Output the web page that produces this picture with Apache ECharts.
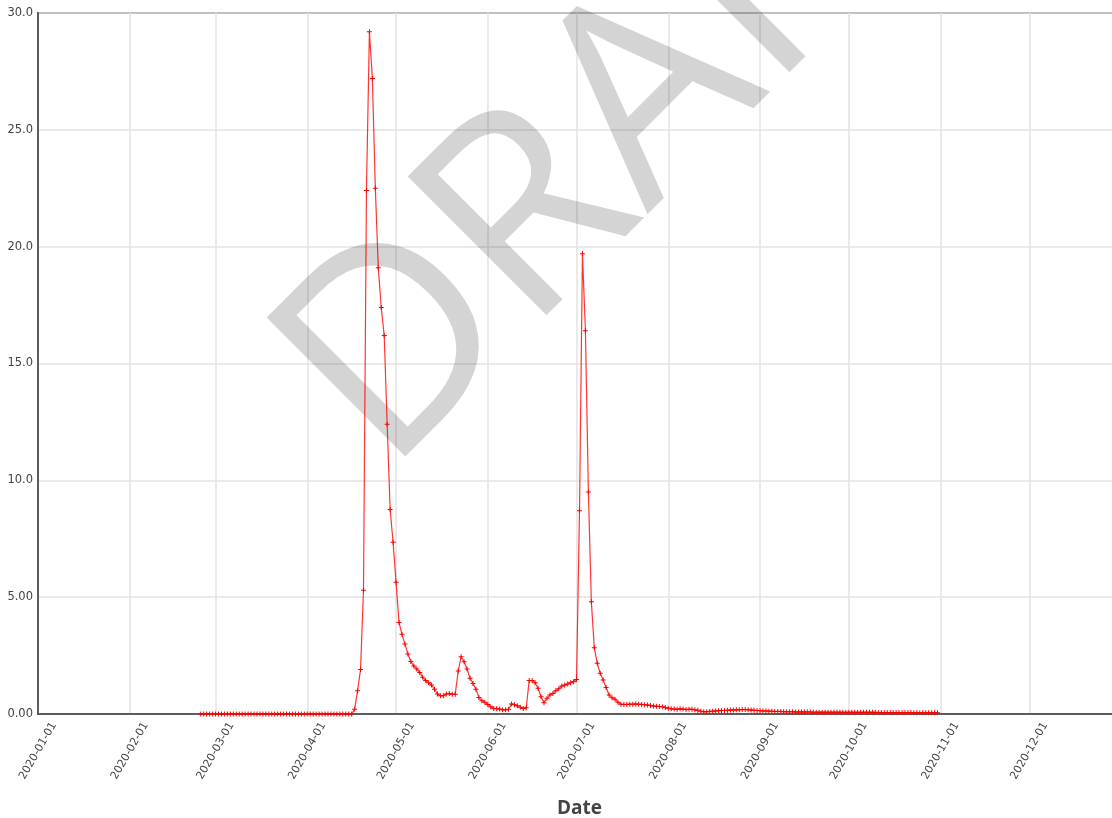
<!DOCTYPE html>
<html>
<head>
<meta charset="utf-8">
<script src="https://cdn.jsdelivr.net/npm/echarts@6/dist/echarts.min.js"></script>
<style>
  html, body { margin: 0; padding: 0; background: #fff; }
  #chart { width: 1112px; height: 818px; }
</style>
</head>
<body>
<div id="chart"></div>
<script>
// Daily values, one array per month (series starts on 2020-02-25)
const startDate = '2020-02-25';
const febValues = [0, 0, 0, 0, 0];
const marValues = [0, 0, 0, 0, 0, 0, 0, 0, 0, 0, 0, 0, 0, 0, 0, 0, 0, 0, 0, 0,
                   0, 0, 0, 0, 0, 0, 0, 0, 0, 0, 0];
const aprValues = [0, 0, 0, 0, 0, 0, 0, 0, 0, 0, 0, 0, 0, 0, 0,
                   0, 0.2, 1.0, 1.9, 5.3, 22.4, 29.2, 27.2, 22.5, 19.1, 17.4, 16.2, 12.4, 8.75, 7.35];
const mayValues = [5.64, 3.92, 3.41, 3.0, 2.57, 2.25, 2.05, 1.93, 1.78, 1.57,
                   1.43, 1.34, 1.24, 1.06, 0.86, 0.78, 0.78, 0.86, 0.88, 0.84,
                   0.84, 1.84, 2.45, 2.24, 1.93, 1.53, 1.31, 1.06, 0.71, 0.57, 0.50];
const junValues = [0.41, 0.31, 0.24, 0.23, 0.21, 0.18, 0.18, 0.20, 0.43, 0.40,
                   0.35, 0.29, 0.24, 0.27, 1.43, 1.43, 1.34, 1.10, 0.74, 0.48,
                   0.67, 0.81, 0.88, 1.00, 1.08, 1.20, 1.24, 1.28, 1.34, 1.38];
const julValues = [1.48, 8.7, 19.7, 16.4, 9.5, 4.8, 2.84, 2.17, 1.74, 1.45,
                   1.13, 0.81, 0.70, 0.63, 0.50, 0.42, 0.41, 0.41, 0.42, 0.42,
                   0.43, 0.42, 0.41, 0.40, 0.38, 0.36, 0.34, 0.33, 0.32, 0.31, 0.28];
const augValues = [0.25, 0.22, 0.21, 0.20, 0.22, 0.21, 0.19, 0.20, 0.20, 0.18,
                   0.16, 0.12, 0.10, 0.10, 0.11, 0.12, 0.13, 0.14, 0.15, 0.15,
                   0.16, 0.17, 0.17, 0.18, 0.18, 0.19, 0.19, 0.18, 0.17, 0.16, 0.15];
const sepValues = [0.14, 0.13, 0.13, 0.12, 0.12, 0.11, 0.11, 0.11, 0.10, 0.10,
                   0.10, 0.10, 0.09, 0.09, 0.09, 0.09, 0.09, 0.09, 0.08, 0.08,
                   0.08, 0.08, 0.08, 0.08, 0.08, 0.08, 0.08, 0.08, 0.07, 0.07];
const octValues = [0.07, 0.07, 0.07, 0.07, 0.07, 0.07, 0.07, 0.07, 0.07, 0.07,
                   0.06, 0.06, 0.06, 0.06, 0.06, 0.06, 0.06, 0.06, 0.06, 0.06,
                   0.06, 0.06, 0.05, 0.05, 0.05, 0.05, 0.05, 0.05, 0.05, 0.05, 0.05];

// Axis extents and labels
const xMin = '2020-01-01';
const xMax = '2021-01-01';
const yMin = 0, yMax = 30, yStep = 5;
const xTitle = 'Date';
const watermark = 'DRAFT';

const values = [].concat(febValues, marValues, aprValues, mayValues, junValues,
                         julValues, augValues, sepValues, octValues);

function pad(n) { return n < 10 ? '0' + n : '' + n; }
function ymd(d) { return d.getFullYear() + '-' + pad(d.getMonth() + 1) + '-' + pad(d.getDate()); }

// one point per calendar day from startDate
const seriesData = [];
{
  const p = startDate.split('-').map(Number);
  for (let i = 0; i < values.length; i++) {
    const d = new Date(p[0], p[1] - 1, p[2] + i);
    seriesData.push([ymd(d), values[i]]);
  }
}

const chart = echarts.init(document.getElementById('chart'), null, { renderer: 'canvas' });
const FONT = '"Open Sans", "Noto Sans", sans-serif';
const TICK_FONT = '"DejaVu Sans", Verdana, sans-serif';

chart.setOption({
  animation: false,
  backgroundColor: '#ffffff',
  textStyle: { fontFamily: FONT },
  grid: {
    left: 38, top: 13, width: 1083, height: 701,
    containLabel: false,
    outerBoundsMode: 'none',
    show: true, borderColor: '#5c5c5c', borderWidth: 2, backgroundColor: 'transparent'
  },
  xAxis: {
    type: 'time',
    min: xMin,
    max: xMax,
    splitNumber: 12,
    minInterval: 28 * 86400000,
    maxInterval: 31 * 86400000,
    name: xTitle,
    nameLocation: 'middle',
    nameGap: 85,
    nameMoveOverlap: false,
    nameTextStyle: { fontFamily: FONT, fontSize: 19, fontWeight: 'bold', color: '#444' },
    axisLine: { show: true, lineStyle: { color: '#5c5c5c', width: 2 } },
    axisTick: { show: false },
    axisLabel: {
      rotate: 60,
      align: 'center',
      verticalAlign: 'middle',
      margin: 37,
      fontFamily: TICK_FONT,
      fontSize: 11,
      color: '#444',
      showMaxLabel: false,
      hideOverlap: false,
      formatter: function (v) { return ymd(new Date(v)); }
    },
    splitLine: { show: true, lineStyle: { color: '#e3e3e3', width: 1.5 } }
  },
  yAxis: {
    type: 'value',
    min: yMin, max: yMax, interval: yStep,
    axisLine: { show: true, lineStyle: { color: '#5c5c5c', width: 2 } },
    axisTick: { show: false },
    axisLabel: {
      margin: 5,
      fontFamily: TICK_FONT,
      fontSize: 11.5,
      color: '#444',
      formatter: function (v) { return Number(v).toPrecision(3); }
    },
    splitLine: { show: true, lineStyle: { color: '#e3e3e3', width: 1.5 } }
  },
  graphic: [{
    type: 'text',
    z: 1,
    x: 331, y: 420,
    rotation: Math.PI / 4,
    silent: true,
    style: {
      text: watermark,
      font: '275px "Open Sans"',
      fill: 'rgba(0,0,0,0.17)',
      align: 'left', textAlign: 'left',
      verticalAlign: 'middle', textVerticalAlign: 'middle'
    }
  }],
  series: [{
    type: 'line',
    data: seriesData,
    z: 5,
    showSymbol: true,
    showAllSymbol: true,
    symbol: 'path://M2,0H3V2H5V3H3V5H2V3H0V2H2Z',
    symbolSize: 5,
    itemStyle: { color: '#ff0000', borderColor: '#ff0000', borderWidth: 0 },
    lineStyle: { color: 'rgba(255,0,0,0.8)', width: 1.2 },
    emphasis: { disabled: true }
  }]
});
</script>
</body>
</html>
